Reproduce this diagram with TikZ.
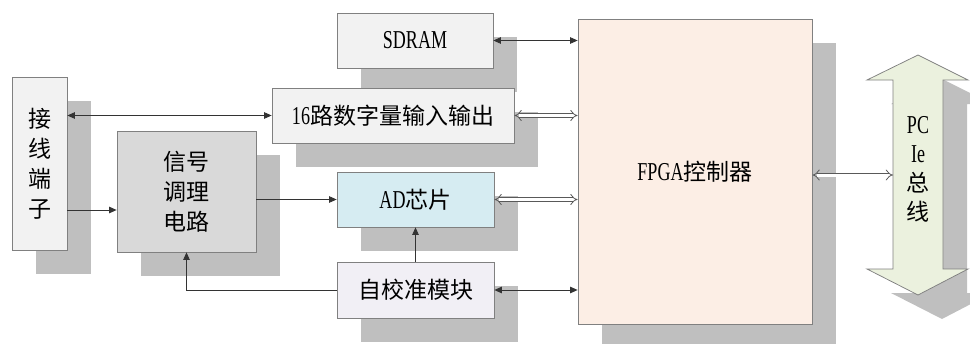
\documentclass[tikz,border=0pt]{standalone}
\usepackage{fontspec}
\setmainfont{Liberation Serif}[Scale=1.12,FakeStretch=0.7]
\newfontfamily\cjk{Noto Sans CJK SC}
\newcommand{\lat}{\rmfamily}
\usetikzlibrary{arrows.meta,shadows}
\definecolor{boxgray}{HTML}{F2F2F2}
\definecolor{siggray}{HTML}{D9D9D9}
\definecolor{adblue}{HTML}{D6ECF2}
\definecolor{calpurple}{HTML}{F1EFF5}
\definecolor{fpgapeach}{HTML}{FCEEE5}
\definecolor{pcigreen}{HTML}{EBF1DE}
\definecolor{shadowgray}{HTML}{BFBFBF}
\definecolor{bordergray}{HTML}{808080}
\begin{document}
\begin{tikzpicture}[x=1pt,y=-1pt,
  >={Triangle[length=7.5pt,width=6.5pt]},
  shad/.style={drop shadow={shadow xshift=24pt,shadow yshift=-24pt,fill=shadowgray,opacity=1}},
  blk/.style={draw=bordergray,line width=0.75pt,inner sep=0pt,align=center,
    font=\cjk\fontsize{23}{30}\selectfont,shad},
  conn/.style={line width=0.75pt,draw=black!80},
  dbl/.style={draw=black!65,line width=0.8pt,double=white,double distance=3pt,{Implies}-{Implies}}
]
\path[use as bounding box] (0,0) rectangle (970,343);
\clip (0,0) rectangle (970,343);

% blocks
\node[blk,fill=boxgray,minimum width=55pt,minimum height=173pt] (jx) at (39.5,163.5) {接\\线\\端\\子};
\node[blk,fill=siggray,minimum width=139pt,minimum height=121pt] (sig) at (186.5,191.5) {信号\\调理\\电路};
\node[blk,fill=boxgray,minimum width=156pt,minimum height=55pt] (sdram) at (415,40.5) {\lat SDRAM};
\node[blk,fill=boxgray,minimum width=242pt,minimum height=55pt] (d16) at (393,115.5) {{\lat 16}路数字量输入输出};
\node[blk,fill=adblue,minimum width=157pt,minimum height=55pt] (ad) at (415.5,199.5) {{\lat AD}芯片};
\node[blk,fill=calpurple,minimum width=157pt,minimum height=56pt] (cal) at (415.5,290) {自校准模块};
\node[blk,fill=fpgapeach,minimum width=234pt,minimum height=305pt] (fpga) at (695,171.5) {{\lat FPGA}控制器};

% PCIe bus arrow
\filldraw[draw=bordergray,fill=pcigreen,line width=0.75pt,shad]
  (918,55) -- (968,80) -- (943,80) -- (943,269) -- (968,269) -- (918,295)
  -- (867,269) -- (893,269) -- (893,80) -- (867,80) -- cycle;
\node[align=center,inner sep=0pt,font=\cjk\fontsize{23}{29}\selectfont] (pcie) at (918,169) {{\lat PC}\\{\lat Ie}\\总\\线};
\coordinate (pciL) at (893,175);
\coordinate (jxrow) at (0,210);

% connectors
\draw[conn,<->] (jx.east |- d16.west) -- (d16.west);
\draw[conn,->] (jx.east |- jxrow) -- (sig.west |- jxrow);
\draw[conn,->] (sig.east |- ad.west) -- (ad.west);
\draw[conn,->] (cal.west) -| (sig.south);
\draw[conn,->] (cal.north) -- (ad.south);
\draw[conn,<->] (sdram.east) -- (sdram.east -| fpga.west);
\draw[conn,<->] (cal.east) -- (cal.east -| fpga.west);
\draw[dbl] (d16.east) -- (d16.east -| fpga.west);
\draw[dbl] (ad.east) -- (ad.east -| fpga.west);
\draw[dbl] (fpga.east |- pciL) -- (pciL);
\end{tikzpicture}
\end{document}
